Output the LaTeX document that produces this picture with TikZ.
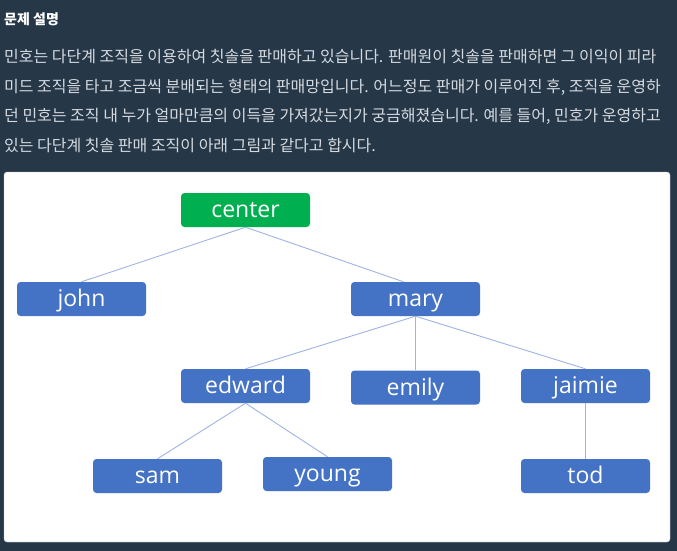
\documentclass[tikz,border=0pt]{standalone}
\usepackage{fontspec}
\newfontfamily\krfont{Noto Sans CJK KR}
\newfontfamily\boxfont{Open Sans}
\definecolor{bg}{HTML}{263747}
\definecolor{para}{HTML}{D5DAE0}
\definecolor{boxblue}{HTML}{4472C4}
\definecolor{boxgreen}{HTML}{00B050}
\definecolor{link}{HTML}{9DB5E3}
\tikzset{
  person/.style={rectangle, rounded corners=3.5pt, fill=boxblue, minimum width=129pt, minimum height=34pt, inner sep=0pt, text height=15pt, text depth=0pt, text=white, font=\boxfont\fontsize{23}{23}\selectfont},
  rootbox/.style={person, fill=boxgreen},
  para/.style={anchor=west, inner sep=0pt, text=para, font=\krfont\fontsize{16}{16}\selectfont},
  edge/.style={draw=link, line width=0.9pt}
}
\begin{document}
\begin{tikzpicture}[x=1pt,y=-1pt]
\path[use as bounding box, fill=bg] (0,0) rectangle (677,551);
\node[anchor=west, inner sep=0pt, text=white, font=\krfont\bfseries\fontsize{14}{14}\selectfont] (title) at (4,19) {문제 설명};
\node[para] (l1) at (4,57) {민호는 다단계 조직을 이용하여 칫솔을 판매하고 있습니다. 판매원이 칫솔을 판매하면 그 이익이 피라};
\node[para] (l2) at (4,87) {미드 조직을 타고 조금씩 분배되는 형태의 판매망입니다. 어느정도 판매가 이루어진 후, 조직을 운영하};
\node[para] (l3) at (4,116) {던 민호는 조직 내 누가 얼마만큼의 이득을 가져갔는지가 궁금해졌습니다. 예를 들어, 민호가 운영하고};
\node[para] (l4) at (4,145) {있는 다단계 칫솔 판매 조직이 아래 그림과 같다고 합시다.};
\path[fill=white, draw=black!25, rounded corners=3pt] (4,172) rectangle (670,542);
\node[rootbox] (center) at (245.5,210) {center};
\node[person] (john) at (81.5,299) {john};
\node[person] (mary) at (415.5,299) {mary};
\node[person] (edward) at (245.5,386) {edward};
\node[person] (emily) at (415.5,387.5) {emily};
\node[person] (jaimie) at (585.5,386) {jaimie};
\node[person] (sam) at (157.5,476) {sam};
\node[person] (young) at (327.5,474) {young};
\node[person] (tod) at (585.5,476) {tod};
\draw[edge] (center.south) -- (john.north);
\draw[edge] (center.south) -- ([xshift=-12pt]mary.north);
\draw[edge] (mary.south) -- (edward.north);
\draw[edge] (mary.south) -- (emily.north);
\draw[edge] (mary.south) -- (jaimie.north);
\draw[edge] (edward.south) -- (sam.north);
\draw[edge] (edward.south) -- (young.north);
\draw[edge] (jaimie.south) -- (tod.north);
\end{tikzpicture}
\end{document}
